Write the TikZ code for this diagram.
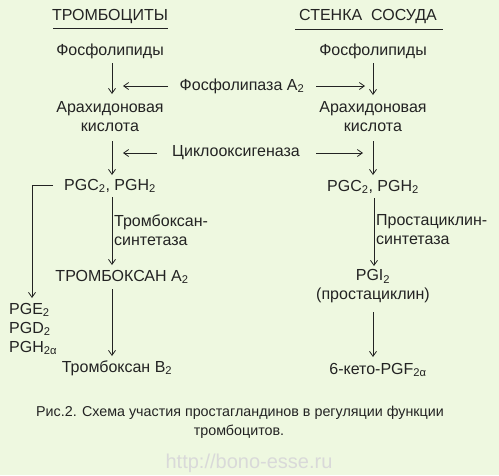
\documentclass[tikz,border=0pt]{standalone}
\usepackage{fontspec}
\setmainfont{Liberation Sans}
\usetikzlibrary{arrows.meta}
\definecolor{bg}{RGB}{238,248,224}
\definecolor{ink}{RGB}{35,35,35}
\tikzset{
  lbl/.style={inner sep=0pt, text=ink, font=\fontsize{16}{19}\selectfont, align=center},
  enz/.style={inner sep=0pt, text=ink, font=\fontsize{16}{19}\selectfont, align=left},
  captxt/.style={inner sep=0pt, text=ink, font=\fontsize{14.3}{18}\selectfont, align=center},
  flow/.style={draw=ink, line width=0.8pt, -{Straight Barb[length=5pt,width=7pt]}},
  thinline/.style={draw=ink, line width=0.8pt}
}
\newcommand{\sub}[1]{\textsubscript{#1}}
\begin{document}
\begin{tikzpicture}[x=1pt,y=-1pt]
\fill[bg] (0,0) rectangle (499,475);
\useasboundingbox (0,0) rectangle (499,475);
% headers
\node[lbl] (h1) at (110,17) {ТРОМБОЦИТЫ};
\node[lbl] (h2) at (368,17) {СТЕНКА\ \ СОСУДА};
\draw[thinline] (53,28.5) -- (168,28.5);
\draw[thinline] (295,29) -- (443,29);
% left column
\node[lbl] (lf) at (110,51.5) {Фосфолипиды};
\node[lbl] (la) at (110,117) {Арахидоновая\\кислота};
\node[lbl] (lp) at (110,186) {PGC\sub{2}, PGH\sub{2}};
\node[enz,anchor=west] (ls) at (114,230) {Тромбоксан-\\синтетаза};
\node[lbl] (lt) at (122,277) {ТРОМБОКСАН A\sub{2}};
\node[lbl] (lb) at (117,368) {Тромбоксан B\sub{2}};
\node[enz,anchor=north west,align=left] (lo) at (9,303) {PGE\sub{2}\\PGD\sub{2}\\PGH\sub{2α}};
% right column
\node[lbl] (rf) at (373,51.5) {Фосфолипиды};
\node[lbl] (ra) at (373,117) {Арахидоновая\\кислота};
\node[lbl] (rp) at (373,187) {PGC\sub{2}, PGH\sub{2}};
\node[enz,anchor=west] (rs) at (376,230) {Простациклин-\\синтетаза};
\node[lbl] (ri) at (373,286) {PGI\sub{2}\\(простациклин)};
\node[lbl] (rk) at (378,370) {6-кето-PGF\sub{2α}};
% enzymes
\node[lbl] (e1) at (242,86) {Фосфолипаза A\sub{2}};
\node[lbl] (e2) at (236,153) {Циклооксигеназа};
% coordinates on column arrows
\coordinate (l1) at (123,86);
\coordinate (r1) at (365,86);
\coordinate (l2) at (123,153);
\coordinate (r2) at (363,153);
\coordinate (bs) at (53,185);
\coordinate (br) at (32,185);
% vertical arrows
\draw[flow] (112,63) -- (112,94);
\draw[flow] (373,63) -- (373,95);
\draw[flow] (112,141) -- (112,175);
\draw[flow] (373,141) -- (373,175);
\draw[flow] (112,197) -- (112,265);
\draw[flow] (374,198) -- (374,266);
\draw[flow] (112,289) -- (112,356);
\draw[flow] (373,312) -- (373,357);
% enzyme arrows
\draw[flow] (168,86) -- (l1);
\draw[flow] (316,86) -- (r1);
\draw[flow] (157,153) -- (l2);
\draw[flow] (316,153) -- (r2);
% side branch
\draw[thinline] (bs) -- (br);
\draw[flow] (br) -- (32,298);
% caption
\node[captxt] (c1) at (240,413) {Рис.2. Схема участия простагландинов в регуляции функции};
\node[captxt] (c2) at (239,432) {тромбоцитов.};
\node[inner sep=0pt, text=white!70!gray, font=\fontsize{20}{24}\selectfont] (wm) at (249,463) {http://bono-esse.ru};
\end{tikzpicture}
\end{document}
